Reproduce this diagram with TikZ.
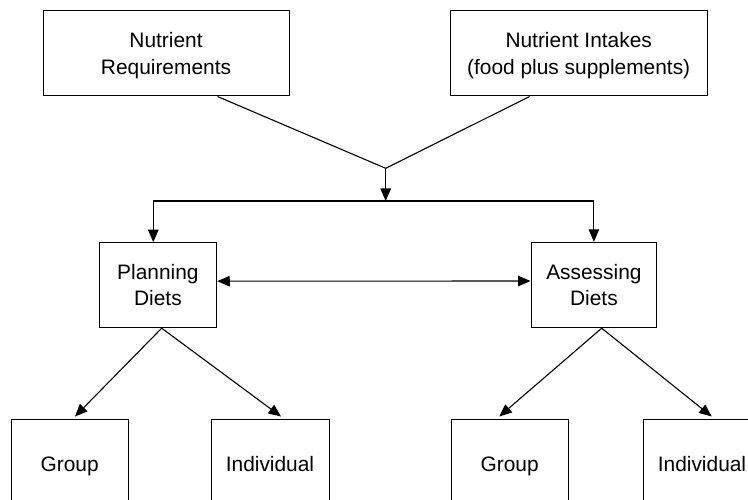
\documentclass[tikz,border=0pt]{standalone}
\usepackage{fontspec}
\setmainfont{Liberation Sans}
\usetikzlibrary{arrows.meta,calc}
\tikzset{
  box/.style={draw, line width=1pt, rectangle, inner sep=0pt, align=center,
    font=\fontsize{20.9}{26.3}\selectfont, text depth=0pt},
  conn/.style={line width=1.1pt},
  arr/.style={conn, -{Triangle[length=12.5pt,width=10.5pt]}},
  arrboth/.style={conn, {Triangle[length=12.5pt,width=10.5pt]}-{Triangle[length=12.5pt,width=10.5pt]}}
}
\begin{document}
\begin{tikzpicture}[x=1pt,y=-1pt]
\useasboundingbox (0,0) rectangle (748,500);
\clip (0,0) rectangle (748,500);
% top boxes
\node[box, minimum width=246pt, minimum height=85pt] (nr) at (166,53.5) {Nutrient\\Requirements};
\node[box, minimum width=257pt, minimum height=85pt] (ni) at (578.7,53.5) {Nutrient Intakes\\(food plus supplements)};
% middle boxes
\node[box, minimum width=117.7pt, minimum height=85pt] (pd) at (157.9,285.2) {Planning\\Diets};
\node[box, minimum width=125.7pt, minimum height=85.4pt] (ad) at (593.9,285) {Assessing\\Diets};
% bottom boxes
\node[box, minimum width=117.3pt, minimum height=90pt] (g1) at (69.7,464) {Group};
\node[box, minimum width=118pt, minimum height=90pt] (i1) at (270,464) {Individual};
\node[box, minimum width=117.3pt, minimum height=90pt] (g2) at (509.7,464) {Group};
\node[box, minimum width=117.3pt, minimum height=90pt] (i2) at (702,464) {Individual};
% junction
\coordinate (j) at (385.7,168.3);
\coordinate (hb) at (385.7,201);
\draw[conn] ([xshift=51.5pt]nr.south) -- (j);
\draw[conn] ([xshift=-49.1pt]ni.south) -- (j);
\draw[arr] (j) -- (hb);
\draw[arr] (hb) -| ([xshift=-4.6pt]pd.north);
\draw[arr] (hb) -| (ad.north);
% bidirectional
\draw[arrboth] ([yshift=4pt]pd.east) -- ([yshift=4pt]ad.west);
% bottom arrows
\draw[arr] ([xshift=3.8pt]pd.south) -- ([xshift=5.3pt,yshift=2pt]g1.north);
\draw[arr] ([xshift=3.8pt]pd.south) -- ([xshift=11pt,yshift=2pt]i1.north);
\draw[arr] ([xshift=7.8pt]ad.south) -- ([xshift=-10.4pt,yshift=2pt]g2.north);
\draw[arr] ([xshift=7.8pt]ad.south) -- ([xshift=9.7pt,yshift=2pt]i2.north);
\end{tikzpicture}
\end{document}
